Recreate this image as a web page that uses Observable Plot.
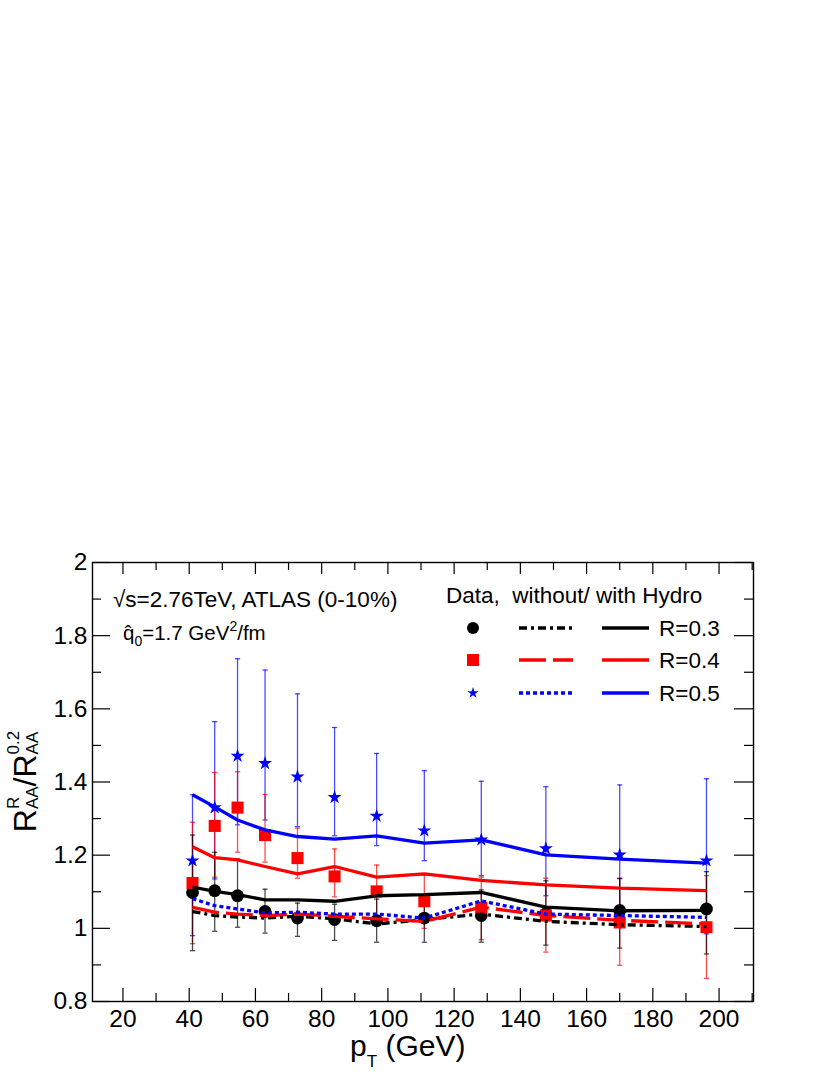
<!DOCTYPE html>
<html>
<head>
<meta charset="utf-8">
<script src="https://cdn.jsdelivr.net/npm/d3@7"></script>
<script src="https://cdn.jsdelivr.net/npm/@observablehq/plot@0.6"></script>
<style>
  html, body { margin: 0; padding: 0; background: white; }
  #chart { width: 830px; height: 1075px; }
</style>
</head>
<body>
<div id="chart"></div>
<script>
// ---- data ----
const pT = [41, 47.7, 54.6, 62.9, 72.7, 83.9, 96.6, 111, 128.2, 147.7, 170, 196.2];

// ATLAS data (ratio to R=0.2) with error bar ends
const data03 = [1.098, 1.103, 1.089, 1.046, 1.028, 1.024, 1.021, 1.028, 1.035, 1.040, 1.049, 1.053];
const lo03   = [0.939, 0.992, 1.003, 0.987, 0.978, 0.967, 0.962, 0.962, 0.962, 0.954, 0.946, 0.930];
const hi03   = [1.255, 1.208, 1.190, 1.107, 1.069, 1.066, 1.080, 1.092, 1.105, 1.130, 1.136, 1.155];

const data04 = [1.124, 1.280, 1.330, 1.255, 1.192, 1.142, 1.101, 1.074, 1.056, 1.035, 1.016, 1.003];
const lo04   = [0.958, 1.140, 1.208, 1.181, 1.137, 1.086, 1.035, 1.000, 0.969, 0.935, 0.899, 0.863];
const hi04   = [1.290, 1.426, 1.428, 1.366, 1.274, 1.217, 1.173, 1.145, 1.140, 1.137, 1.137, 1.144];

const data05 = [1.185, 1.330, 1.471, 1.451, 1.414, 1.358, 1.307, 1.267, 1.242, 1.218, 1.201, 1.185];
const lo05   = [0.980, 1.135, 1.283, 1.296, 1.278, 1.253, 1.226, 1.185, 1.144, 1.089, 1.020, 0.985];
const hi05   = [1.365, 1.565, 1.737, 1.706, 1.641, 1.549, 1.478, 1.431, 1.402, 1.387, 1.392, 1.409];

// model curves: with hydro (solid) and without hydro
const with03 = [1.113, 1.101, 1.092, 1.078, 1.078, 1.074, 1.089, 1.092, 1.098, 1.058, 1.048, 1.049];
const with04 = [1.223, 1.193, 1.187, 1.169, 1.149, 1.169, 1.140, 1.149, 1.131, 1.119, 1.110, 1.103];
const with05 = [1.365, 1.332, 1.296, 1.269, 1.251, 1.244, 1.253, 1.233, 1.242, 1.201, 1.189, 1.178];
const wo03   = [1.046, 1.035, 1.031, 1.028, 1.033, 1.026, 1.012, 1.024, 1.039, 1.019, 1.010, 1.005];
const wo04   = [1.057, 1.044, 1.039, 1.035, 1.039, 1.033, 1.026, 1.019, 1.058, 1.035, 1.022, 1.012];
const wo05   = [1.081, 1.062, 1.053, 1.042, 1.044, 1.039, 1.039, 1.028, 1.075, 1.039, 1.035, 1.030];

// ticks
const xMajor = [20, 40, 60, 80, 100, 120, 140, 160, 180, 200];
const xMinor = [30, 50, 70, 90, 110, 130, 150, 170, 190, 210];
const yMajor = [0.8, 1.0, 1.2, 1.4, 1.6, 1.8, 2.0];
const yMinor = [0.9, 1.1, 1.3, 1.5, 1.7, 1.9];
const yTickLabels = ["0.8", "1", "1.2", "1.4", "1.6", "1.8", "2"];

const seriesNames = ["R=0.3", "R=0.4", "R=0.5"];

// ---- build tables ----
const BLACK = "#000000", RED = "#ff0000", BLUE = "#0000ff";
const pts = (v, lo, hi) => pT.map((x, i) => ({pT: x, v: v[i], lo: lo[i], hi: hi[i]}));
const crv = (v) => pT.map((x, i) => ({pT: x, v: v[i]}));
const d03 = pts(data03, lo03, hi03), d04 = pts(data04, lo04, hi04), d05 = pts(data05, lo05, hi05);

const W = 830, H = 1075, ML = 92, MR = 77, MT = 562, MB = 74;
const IW = W - ML - MR, IH = H - MT - MB;

const cap = {draw(ctx, size) { const r = Math.sqrt(size / Math.PI); ctx.moveTo(-r, 0); ctx.lineTo(r, 0); }};

function errMarks(d, color) {
  return [
    Plot.ruleX(d, {x: "pT", y1: "lo", y2: "hi", stroke: color, strokeWidth: 1.3, strokeOpacity: 0.7}),
    Plot.dot(d, {x: "pT", y: "lo", symbol: cap, r: 2.6, stroke: color, strokeWidth: 1.3, strokeOpacity: 0.7}),
    Plot.dot(d, {x: "pT", y: "hi", symbol: cap, r: 2.6, stroke: color, strokeWidth: 1.3, strokeOpacity: 0.7})
  ];
}

const lineOpts = (color, dash) => ({x: "pT", y: "v", stroke: color, strokeWidth: 3.3, strokeDasharray: dash, strokeLinejoin: "miter", strokeLinecap: "butt"});

const plot = Plot.plot({
  width: W, height: H,
  marginLeft: ML, marginRight: MR, marginTop: MT, marginBottom: MB,
  x: {domain: [10.8, 210.4]},
  y: {domain: [0.8, 2.0]},
  style: {fontFamily: "'Liberation Sans', Arial, Helvetica, sans-serif", background: "white", color: "black"},
  marks: [
    Plot.axisX({ticks: xMajor, tickSize: 0, tickPadding: 8, fontSize: 24.5, label: null, tickFormat: d => String(d)}),
    Plot.axisY({ticks: yMajor, tickSize: 0, tickPadding: 5, fontSize: 24.5, label: null,
      tickFormat: d => yTickLabels[yMajor.findIndex(t => Math.abs(t - d) < 1e-9)]}),
    // inward ticks (ROOT style)
    Plot.ruleX(xMajor, {x: d => d, insetTop: IH - 13, stroke: "black", strokeWidth: 1.2}),
    Plot.ruleX(xMinor, {x: d => d, insetTop: IH - 8, stroke: "black", strokeWidth: 1.2}),
    Plot.ruleX(xMajor, {x: d => d, insetBottom: IH - 12, stroke: "black", strokeWidth: 1.2}),
    Plot.ruleX(xMinor, {x: d => d, insetBottom: IH - 8, stroke: "black", strokeWidth: 1.2}),
    Plot.ruleY(yMajor, {y: d => d, insetRight: IW - 18, stroke: "black", strokeWidth: 1.2}),
    Plot.ruleY(yMinor, {y: d => d, insetRight: IW - 9, stroke: "black", strokeWidth: 1.2}),
    Plot.ruleY(yMajor, {y: d => d, insetLeft: IW - 19, stroke: "black", strokeWidth: 1.2}),
    Plot.ruleY(yMinor, {y: d => d, insetLeft: IW - 9, stroke: "black", strokeWidth: 1.2}),
    // error bars
    ...errMarks(d05, BLUE),
    ...errMarks(d04, RED),
    ...errMarks(d03, BLACK),
    // data markers
    Plot.dot(d03, {x: "pT", y: "v", symbol: "circle", r: 6.4, fill: BLACK}),
    Plot.dot(d04, {x: "pT", y: "v", symbol: "square", r: 6.8, fill: RED}),
    Plot.dot(d05, {x: "pT", y: "v", symbol: "star", r: 4.4, fill: BLUE}),
    // model curves
    Plot.line(crv(wo03), lineOpts(BLACK, "8,4,3,4")),
    Plot.line(crv(wo04), lineOpts(RED, "27,7")),
    Plot.line(crv(wo05), lineOpts(BLUE, "4,3")),
    Plot.line(crv(with03), lineOpts(BLACK, null)),
    Plot.line(crv(with04), lineOpts(RED, null)),
    Plot.line(crv(with05), lineOpts(BLUE, null)),
    Plot.frame({stroke: "black", strokeWidth: 1.4})
  ]
});

document.getElementById("chart").appendChild(plot);

// ---- text annotations, axis titles and legend ----
const svg = d3.select(plot);
const FONT = "'Liberation Sans', Arial, Helvetica, sans-serif";

// y axis title
const yt = svg.append("text")
  .attr("transform", `translate(36,${MT + IH / 2}) rotate(-90)`)
  .attr("text-anchor", "middle").attr("font-family", FONT).attr("font-size", 32).attr("fill", "black");
yt.append("tspan").text("R");
yt.append("tspan").attr("font-size", 17).attr("dy", 2).text("AA");
yt.append("tspan").attr("font-size", 17).attr("dx", -22.7).attr("dy", -19).text("R");
yt.append("tspan").attr("dx", 22.7 - 12.3).attr("dy", 17).text("/R");
yt.append("tspan").attr("font-size", 17).attr("dy", 2).text("AA");
yt.append("tspan").attr("font-size", 17).attr("dx", -22.7).attr("dy", -19).text("0.2");

// x axis title
const xt = svg.append("text")
  .attr("x", 350).attr("y", 1056).attr("text-anchor", "start")
  .attr("font-family", FONT).attr("font-size", 30).attr("fill", "black");
xt.append("tspan").text("p");
xt.append("tspan").attr("font-size", 17).attr("dy", 11).text("T");
xt.append("tspan").attr("dy", -11).text(" (GeV)");

// annotations
svg.append("text").attr("x", 113).attr("y", 607).attr("text-anchor", "start")
  .attr("font-family", FONT).attr("font-size", 22.5).attr("fill", "black")
  .text("\u221As=2.76TeV, ATLAS (0-10%)");
const q = svg.append("text").attr("x", 123).attr("y", 640).attr("text-anchor", "start")
  .attr("font-family", FONT).attr("font-size", 20.5).attr("fill", "black");
q.append("tspan").text("q\u0302");
q.append("tspan").attr("font-size", 14).attr("dy", 6).text("0");
q.append("tspan").attr("dy", -6).text("=1.7 GeV");
q.append("tspan").attr("font-size", 14).attr("dy", -9).text("2");
q.append("tspan").attr("dy", 9).text("/fm");

// legend
const lg = svg.append("g").attr("font-family", FONT).attr("font-size", 22.5).attr("fill", "black").attr("text-anchor", "start");
lg.append("text").attr("x", 446).attr("y", 603).attr("xml:space", "preserve").text("Data,  without/ with Hydro");
const rowsY = [628, 660, 693];
const colors = [BLACK, RED, BLUE];
const dashes = ["8,4,3,4", "27,7", "4,3"];
const syms = [d3.symbol(d3.symbolCircle, Math.PI * 6 * 6), d3.symbol(d3.symbolSquare, 144), d3.symbol(d3.symbolStar, 40)];
seriesNames.forEach((name, i) => {
  const y = rowsY[i];
  lg.append("path").attr("transform", `translate(473,${y})`).attr("d", syms[i]()).attr("fill", colors[i]);
  lg.append("line").attr("x1", 519).attr("x2", 573).attr("y1", y).attr("y2", y)
    .attr("stroke", colors[i]).attr("stroke-width", 3.3).attr("stroke-dasharray", dashes[i]);
  lg.append("line").attr("x1", 602).attr("x2", 649).attr("y1", y).attr("y2", y)
    .attr("stroke", colors[i]).attr("stroke-width", 3.3);
  lg.append("text").attr("x", 659).attr("y", y + 8).text(name);
});
</script>
</body>
</html>
